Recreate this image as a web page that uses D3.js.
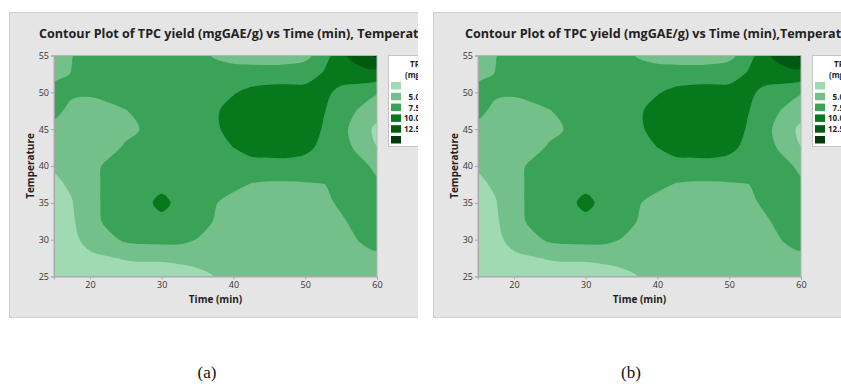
<!DOCTYPE html>
<html>
<head>
<meta charset="utf-8">
<script src="https://cdn.jsdelivr.net/npm/d3@7"></script>
<style>
  html, body { margin: 0; padding: 0; background: #ffffff; }
  svg { display: block; }
</style>
</head>
<body>
<svg id="chart" width="841" height="384"></svg>
<script>
// ---------------- data ----------------
const times = [15, 17.5, 20, 22.5, 25, 27.5, 30, 32.5, 35, 37.5, 40, 42.5, 45, 47.5, 50, 52.5, 55, 57.5, 60];
const temperatures = [55, 52.5, 50, 47.5, 45, 42.5, 40, 37.5, 35, 32.5, 30, 27.5, 25];
// TPC yield (mgGAE/g), one row per temperature (top row = 55), one column per time
const tpcYield = [
  [6.6, 7.4, 8.6, 8.9, 9.0, 9.0, 9.0, 8.8, 8.2, 7.2, 6.6, 6.4, 6.3, 6.5, 6.9, 8.4, 12.0, 13.6, 15.4],
  [6.8, 7.6, 8.6, 8.8, 9.0, 9.1, 9.2, 9.2, 9.1, 8.8, 8.6, 8.6, 8.6, 8.6, 8.8, 10.2, 11.4, 11.6, 11.4],
  [8.4, 7.8, 7.8, 8.3, 8.9, 9.1, 9.2, 9.3, 9.3, 9.4, 9.8, 10.6, 11.0, 11.1, 11.0, 10.8, 9.2, 8.6, 7.7],
  [8.0, 7.0, 6.6, 6.8, 7.4, 8.4, 9.0, 9.2, 9.4, 9.7, 11.0, 11.6, 11.8, 11.8, 11.6, 10.2, 8.6, 7.3, 6.0],
  [6.9, 6.0, 5.9, 6.0, 6.5, 7.8, 8.7, 9.1, 9.3, 9.6, 11.0, 11.7, 12.0, 12.0, 11.6, 9.8, 8.2, 6.4, 4.4],
  [6.0, 5.8, 5.8, 6.2, 8.0, 8.7, 9.0, 9.2, 9.3, 9.5, 10.0, 11.0, 11.2, 11.3, 10.6, 9.4, 8.0, 7.2, 5.05],
  [5.2, 5.6, 6.3, 8.2, 8.6, 9.0, 9.3, 9.4, 9.4, 9.4, 9.2, 9.0, 9.0, 9.0, 9.0, 9.0, 8.4, 7.9, 7.2],
  [4.6, 5.3, 6.8, 8.0, 8.8, 9.2, 9.3, 9.5, 9.3, 8.8, 8.0, 7.4, 7.2, 7.2, 7.3, 7.45, 7.9, 8.1, 7.7],
  [4.2, 4.9, 6.8, 8.0, 8.9, 9.3, 10.7, 9.3, 8.8, 7.6, 6.8, 6.5, 6.4, 6.4, 6.5, 6.9, 7.9, 8.3, 8.4],
  [4.0, 4.7, 6.4, 8.1, 8.8, 9.1, 9.3, 9.1, 8.6, 7.3, 6.4, 6.1, 6.0, 6.0, 6.1, 6.4, 7.2, 8.2, 8.6],
  [3.8, 4.4, 5.8, 6.8, 7.9, 8.2, 8.3, 8.2, 7.4, 6.4, 6.0, 5.8, 5.7, 5.7, 5.8, 6.0, 6.5, 7.6, 8.3],
  [3.6, 3.9, 4.5, 4.8, 5.2, 5.3, 5.3, 5.4, 5.6, 5.8, 5.8, 5.7, 5.6, 5.6, 5.7, 5.9, 6.2, 6.7, 7.0],
  [3.4, 3.5, 3.6, 3.6, 3.6, 3.8, 3.9, 4.2, 4.5, 5.05, 5.3, 5.4, 5.4, 5.4, 5.4, 5.4, 5.3, 5.1, 4.95]
];
const levels = [5, 7.5, 10, 12.5, 15];
const levelColors = ["#9fdab2", "#73c08a", "#3aa357", "#08781d", "#005a12", "#003a0b"];
const legendFrom = ["", "5.0", "7.5", "10.0", "12.5", ""];
const legendSign = ["<", "–", "–", "–", "–", ">"];
const legendTo = ["5.0", "7.5", "10.0", "12.5", "15.0", "15.0"];
const xTicks = [20, 30, 40, 50, 60];
const yTicks = [25, 30, 35, 40, 45, 50, 55];
const panelTitles = [
  "Contour Plot of TPC yield (mgGAE/g) vs Time (min), Temperature",
  "Contour Plot of TPC yield (mgGAE/g) vs Time (min),Temperature"
];
const captions = ["(a)", "(b)"];

// ---------------- drawing ----------------
const svg = d3.select("#chart");
const uiFont = "'Open Sans', 'Noto Sans', sans-serif";
const panelW = 409, panelH = 306;
const panelX = [9, 433];
const titleDX = [30, 32];

const nx = times.length, ny = temperatures.length;
const flat = tpcYield.flat();
const contourGen = d3.contours().size([nx, ny]).thresholds(levels);
const bands = contourGen(flat);

const defs = svg.append("defs");

panelX.forEach((px, k) => {
  const clipId = "panelclip" + k;
  defs.append("clipPath").attr("id", clipId)
    .append("rect").attr("x", 0).attr("y", 0).attr("width", panelW).attr("height", panelH + 2);

  const g = svg.append("g").attr("transform", `translate(${px},12)`)
    .attr("clip-path", `url(#${clipId})`);

  g.append("rect").attr("x", 0.5).attr("y", 0.5).attr("width", panelW + 10).attr("height", panelH - 1)
    .attr("fill", "#e5e5e5").attr("stroke", "#cfcfcf");

  const left = 45, top = 43.5, right = 368, bottom = 264.5;
  const x = d3.scaleLinear().domain([15, 60]).range([left, right]);
  const y = d3.scaleLinear().domain([25, 55]).range([bottom, top]);

  // grid index -> data position (sample i sits at i+0.5 in contour space)
  const gx = d3.scaleLinear().domain([0.5, nx - 0.5]).range([x(times[0]), x(times[nx - 1])]);
  const gy = d3.scaleLinear().domain([0.5, ny - 0.5]).range([y(temperatures[0]), y(temperatures[ny - 1])]);

  const plotClip = "plotclip" + k;
  defs.append("clipPath").attr("id", plotClip)
    .append("rect").attr("x", left).attr("y", top).attr("width", right - left).attr("height", bottom - top);

  const plot = g.append("g").attr("clip-path", `url(#${plotClip})`);
  plot.append("rect").attr("x", left).attr("y", top).attr("width", right - left).attr("height", bottom - top)
    .attr("fill", levelColors[0]);

  const ringLine = d3.line()
    .x(p => gx(p[0])).y(p => gy(p[1]))
    .curve(d3.curveCatmullRomClosed.alpha(0.5));

  bands.forEach((band, i) => {
    let d = "";
    band.coordinates.forEach(poly => {
      poly.forEach(ring => {
        const pts = ring.slice(0, ring.length - 1);
        if (pts.length > 2) d += ringLine(pts);
      });
    });
    if (d) plot.append("path").attr("d", d).attr("fill", levelColors[i + 1]).attr("fill-rule", "evenodd");
  });

  g.append("rect").attr("x", left).attr("y", top).attr("width", right - left).attr("height", bottom - top)
    .attr("fill", "none").attr("stroke", "#b4b4b4").attr("stroke-width", 1);

  // axes
  const xAxis = g.append("g").attr("transform", `translate(0,${bottom})`)
    .call(d3.axisBottom(x).tickValues(xTicks).tickSize(3).tickPadding(2).tickFormat(d3.format("d")));
  const yAxis = g.append("g").attr("transform", `translate(${left},0)`)
    .call(d3.axisLeft(y).tickValues(yTicks).tickSize(3).tickPadding(2).tickFormat(d3.format("d")));
  [xAxis, yAxis].forEach(a => {
    a.select(".domain").attr("stroke", "#a8a8a8");
    a.selectAll(".tick line").attr("stroke", "#a8a8a8");
    a.selectAll(".tick text").attr("fill", "#333").attr("font-family", uiFont).attr("font-size", 9);
  });

  // title and axis labels
  g.append("text").attr("x", titleDX[k]).attr("y", 25.5)
    .attr("font-family", uiFont).attr("font-weight", "bold").attr("font-size", 12.6)
    .attr("fill", "#222").text(panelTitles[k]);
  g.append("text").attr("x", (left + right) / 2).attr("y", 291)
    .attr("text-anchor", "middle").attr("font-family", uiFont).attr("font-weight", "bold")
    .attr("font-size", 10).attr("fill", "#222").text("Time (min)");
  g.append("text").attr("transform", `translate(25,${(top + bottom) / 2}) rotate(-90)`)
    .attr("text-anchor", "middle").attr("font-family", uiFont).attr("font-weight", "bold")
    .attr("font-size", 10).attr("fill", "#222").text("Temperature");

  // legend
  const lx = 379, ly = 43;
  const lg = g.append("g").attr("transform", `translate(${lx},${ly})`);
  lg.append("rect").attr("x", 0.5).attr("y", 0.5).attr("width", 80).attr("height", 91)
    .attr("fill", "#ffffff").attr("stroke", "#c4c4c4");
  lg.append("text").attr("x", 22).attr("y", 12)
    .attr("font-family", uiFont).attr("font-weight", "bold").attr("font-size", 8).attr("fill", "#222")
    .text("TPC yield");
  lg.append("text").attr("x", 17).attr("y", 23)
    .attr("font-family", uiFont).attr("font-weight", "bold").attr("font-size", 8).attr("fill", "#222")
    .text("(mgGAE/g)");
  levelColors.forEach((c, i) => {
    const ry = 27 + i * 10.8;
    lg.append("rect").attr("x", 3).attr("y", ry).attr("width", 10).attr("height", 7.5).attr("fill", c);
    const ty = ry + 7;
    lg.append("text").attr("x", 32).attr("y", ty).attr("text-anchor", "end")
      .attr("font-family", uiFont).attr("font-weight", "bold").attr("font-size", 8).attr("fill", "#222")
      .text(legendFrom[i]);
    lg.append("text").attr("x", 37).attr("y", ty)
      .attr("font-family", uiFont).attr("font-weight", "bold").attr("font-size", 8).attr("fill", "#222")
      .text(legendSign[i]);
    lg.append("text").attr("x", 61).attr("y", ty).attr("text-anchor", "end")
      .attr("font-family", uiFont).attr("font-weight", "bold").attr("font-size", 8).attr("fill", "#222")
      .text(legendTo[i]);
  });

  // caption
  svg.append("text").attr("x", px + 198).attr("y", 378).attr("text-anchor", "middle")
    .attr("font-family", "'Liberation Serif', 'Times New Roman', serif").attr("font-size", 17)
    .attr("fill", "#111").text(captions[k]);
});
</script>
</body>
</html>
